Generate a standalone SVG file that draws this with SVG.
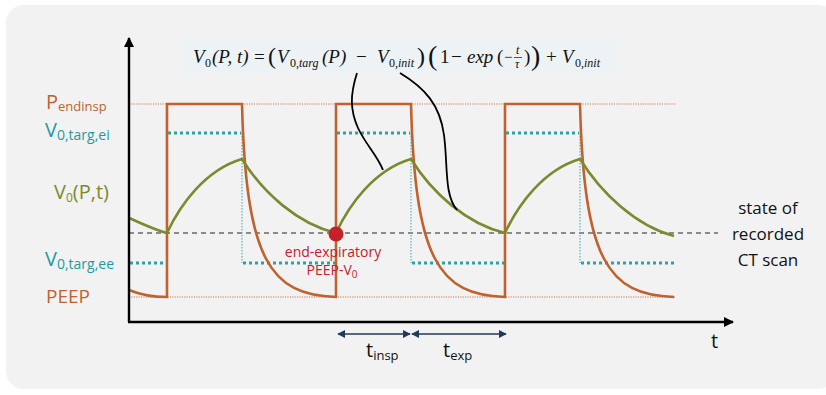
<svg xmlns="http://www.w3.org/2000/svg" width="826" height="395" viewBox="0 0 826 395">
<defs>
<marker id="ax" viewBox="0 0 10 10" refX="9" refY="5" markerWidth="10" markerHeight="10" markerUnits="userSpaceOnUse" orient="auto"><path d="M0,0 L10,5 L0,10 z" fill="#000"/></marker>
<marker id="nv" viewBox="0 0 10 10" refX="9" refY="5" markerWidth="8" markerHeight="8" markerUnits="userSpaceOnUse" orient="auto-start-reverse"><path d="M0,0 L10,5 L0,10 z" fill="#1f3a5c"/></marker>
<style>
.lab{font-family:"Open Sans","Liberation Sans",sans-serif}
.m{font-family:"Liberation Serif","DejaVu Serif",serif;font-style:italic;font-size:19px;fill:#111}
.mu{font-family:"Liberation Serif","DejaVu Serif",serif;font-style:normal;fill:#111}
.ms{font-family:"Liberation Serif","DejaVu Serif",serif;font-size:12px;fill:#111}
.org{fill:#c0622f}
.teal{fill:#1f9aa0}
.grn{fill:#7b8a2f}
.pulse{fill:none;stroke:#c0622f;stroke-width:2.6}
.guide{fill:none;stroke:#c97a4e;stroke-width:1;stroke-dasharray:1.2 1.2}
.tdot{fill:none;stroke:#2aa3a8;stroke-width:3;stroke-dasharray:3 3}
.tv{fill:none;stroke:#55b5ba;stroke-width:1.2;stroke-dasharray:1.5 1.5}
.v0{fill:none;stroke:#7b8a2f;stroke-width:2.6}
.conn{fill:none;stroke:#000;stroke-width:1.8}
</style>
</defs>
<rect x="0" y="0" width="826" height="395" fill="#ffffff"/>
<rect x="6" y="5" width="830" height="384" rx="18" fill="#f2f2f2"/>

<g id="formula">
<rect x="183" y="37" width="434" height="36" fill="#edf2f4"/>
<text class="m" x="193" y="63">V</text><text class="ms" x="205" y="67">0</text>
<text class="m" x="212" y="63">(P, t)</text>
<text class="mu" x="254" y="63" font-size="19">=</text>
<text class="mu" x="268" y="64" font-size="24">(</text>
<text class="m" x="277" y="63">V</text><text class="ms" x="290" y="67">0,<tspan font-style="italic">targ</tspan></text>
<text class="m" x="322" y="63">(P)</text>
<text class="mu" x="356" y="63" font-size="19">−</text>
<text class="m" x="377" y="63">V</text><text class="ms" x="389" y="67">0,<tspan font-style="italic">init</tspan></text>
<text class="mu" x="417" y="64" font-size="24">)</text>
<text class="mu" x="428" y="65" font-size="28">(</text>
<text class="mu" x="440" y="63" font-size="19">1</text>
<text class="mu" x="451" y="63" font-size="19">−</text>
<text class="m" x="467" y="63">exp</text>
<text class="mu" x="497" y="63" font-size="19">(</text>
<text class="mu" x="504" y="62" font-size="15">−</text>
<text class="ms" x="516" y="54" font-size="8" font-style="italic">t</text>
<line x1="514" y1="57.5" x2="522" y2="57.5" stroke="#111" stroke-width="0.7"/>
<text class="ms" x="515" y="68" font-size="8" font-style="italic">τ</text>
<text class="mu" x="524" y="63" font-size="19">)</text>
<text class="mu" x="531" y="65" font-size="28">)</text>
<text class="mu" x="546" y="63" font-size="19">+</text>
<text class="m" x="562" y="63">V</text><text class="ms" x="575" y="67">0,<tspan font-style="italic">init</tspan></text>
</g>

<g id="guides">
<line class="guide" x1="129" y1="104" x2="676" y2="104"/>
<line class="guide" x1="129" y1="297" x2="676" y2="297"/>
<line x1="129" y1="233" x2="718" y2="233" stroke="#222" stroke-width="1.2" stroke-dasharray="5 4"/>
</g>

<g id="targets">
<path class="tdot" d="M130,263 H166 M168,133 H241 M243,263 H335 M337,133 H410 M412,263 H504 M506,133 H579 M581,263 H674"/>
<path class="tv" d="M242,133 V263 M411,133 V263 M580,133 V263"/>
</g>

<g id="pressure">
<path class="pulse" d="M129,290 C141,295 152,297 167,297 V104 H242 C246,260 270,295 336,297 V104 H411 C415,260 439,295 505,297 V104 H580 C584,260 608,295 674,297"/>
</g>

<g id="volume">
<path class="v0" d="M129,218 C145,225 155,230 167,233 C180,205 205,170 242,159 C263,193 298,224 336,233 C349,205 374,170 411,159 C432,193 467,224 505,233 C518,205 543,170 580,159 C601,193 636,226 674,236"/>
</g>

<g id="axes">
<line x1="129" y1="322" x2="129" y2="38" stroke="#000" stroke-width="2.4" marker-end="url(#ax)"/>
<line x1="128" y1="322" x2="733" y2="322" stroke="#000" stroke-width="2.4" marker-end="url(#ax)"/>
<text class="lab" x="711" y="348" font-size="20" fill="#111">t</text>
</g>

<g id="connectors">
<path class="conn" d="M357,73 C350,95 350,110 358,128 C366,145 377,155 383,170"/>
<path class="conn" d="M400,73 C425,88 440,105 444,135 C448,165 444,195 457,210"/>
<line x1="338" y1="334" x2="410" y2="334" stroke="#1f3a5c" stroke-width="1.5" marker-start="url(#nv)" marker-end="url(#nv)"/>
<line x1="412" y1="334" x2="506" y2="334" stroke="#1f3a5c" stroke-width="1.5" marker-start="url(#nv)" marker-end="url(#nv)"/>
</g>

<g id="labels">
<text class="lab org" x="46" y="109" font-size="20">P<tspan font-size="13" dy="2">endinsp</tspan></text>
<text class="lab teal" x="45" y="137" font-size="20">V<tspan font-size="14" dy="3">0,targ,ei</tspan></text>
<text class="lab grn" x="54" y="199" font-size="20">V<tspan font-size="12" dy="3">0</tspan><tspan dy="-3">(P,t)</tspan></text>
<text class="lab teal" x="45" y="266" font-size="20">V<tspan font-size="14" dy="3">0,targ,ee</tspan></text>
<text class="lab org" x="46" y="303" font-size="19">PEEP</text>
<text class="lab" x="768" y="214" font-size="17" fill="#111" text-anchor="middle">state of</text>
<text class="lab" x="768" y="240" font-size="17" fill="#111" text-anchor="middle">recorded</text>
<text class="lab" x="768" y="266" font-size="17" fill="#111" text-anchor="middle">CT scan</text>
<text class="lab" x="366" y="357" font-size="20" fill="#111">t<tspan font-size="13" dy="3">insp</tspan></text>
<text class="lab" x="443" y="357" font-size="20" fill="#111">t<tspan font-size="13" dy="3">exp</tspan></text>
</g>

<g id="end-expiratory">
<circle cx="336" cy="234" r="7.5" fill="#c8202a"/>
<text class="lab" x="333" y="257" font-size="14" fill="#c8202a" text-anchor="middle">end-expiratory</text>
<text class="lab" x="332" y="275" font-size="14" fill="#c8202a" text-anchor="middle">PEEP-V<tspan font-size="10" dy="3">0</tspan></text>
</g>
</svg>
